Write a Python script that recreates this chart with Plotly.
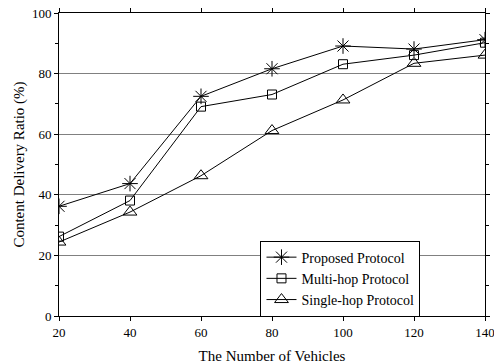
import plotly.graph_objects as go

vehicles = [20, 40, 60, 80, 100, 120, 140]
proposed = [36.2, 43.7, 72.5, 81.6, 89.1, 88.1, 91.2]
multi_hop = [26.2, 38.1, 69.1, 73.1, 83.1, 86.1, 90.2]
single_hop = [24.4, 34.3, 46.3, 61.2, 71.3, 83.4, 86.1]

font_family = "Liberation Serif, Times New Roman, serif"

fig = go.Figure()
series = [
    ("Proposed Protocol", proposed, "asterisk-open", 13),
    ("Multi-hop Protocol", multi_hop, "square-open", 9),
    ("Single-hop Protocol", single_hop, "triangle-up-open", 12),
]
for name, vals, sym, sz in series:
    fig.add_trace(go.Scatter(
        x=vehicles, y=vals, name=name, mode="lines+markers",
        line=dict(color="black", width=1),
        marker=dict(symbol=sym, size=sz, color="black", line=dict(color="black", width=1)),
        cliponaxis=True,
    ))

fig.update_layout(
    width=494, height=364,
    margin=dict(l=59, r=9, t=13, b=48, autoexpand=False),
    paper_bgcolor="white", plot_bgcolor="white",
    font=dict(family=font_family, size=13, color="black"),
    showlegend=True,
    legend=dict(
        x=0.473, y=0.249, xanchor="left", yanchor="top",
        bgcolor="white", bordercolor="black", borderwidth=1,
        font=dict(family=font_family, size=14, color="black"),
        tracegroupgap=0, itemwidth=30,
    ),
    xaxis=dict(
        range=[20, 140], tickvals=vehicles, showline=True, linecolor="black",
        linewidth=1, mirror="ticks", ticks="outside", ticklen=4, tickcolor="black",
        showgrid=False, zeroline=False, automargin=False,
        ticklabeloverflow="allow",
        title=dict(text="The Number of Vehicles", font=dict(size=15), standoff=16),
        tickfont=dict(size=13),
    ),
    yaxis=dict(
        range=[0, 100], tickvals=[0, 20, 40, 60, 80, 100], showline=True,
        linecolor="black", linewidth=1, mirror="ticks", ticks="outside", ticklen=4,
        tickcolor="black", showgrid=True, gridcolor="#808080", gridwidth=1,
        zeroline=False, automargin=False, ticklabeloverflow="allow",
        minor=dict(tickvals=[10, 30, 50, 70, 90], ticks="outside", ticklen=3,
                   tickcolor="black", showgrid=False),
        title=dict(text="Content Delivery Ratio (%)", font=dict(size=15), standoff=3),
        tickfont=dict(size=13),
    ),
)

fig.write_html("out.html")
